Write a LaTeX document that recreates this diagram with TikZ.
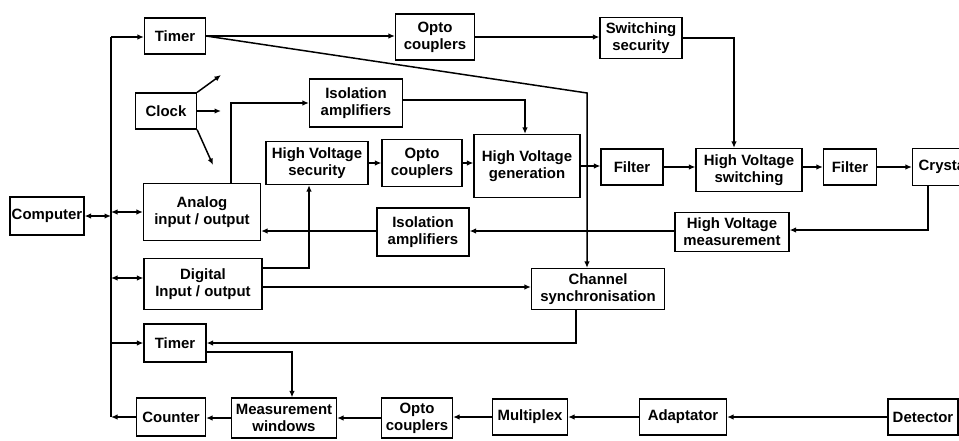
\documentclass[tikz,border=0pt]{standalone}
\usepackage{fontspec}
\setmainfont{Liberation Sans}
\usepackage{tikz}
\usetikzlibrary{arrows.meta, positioning, calc}

\begin{document}
\begin{tikzpicture}[
    x=0.02cm, y=-0.02cm,
    font=\fontsize{8.5}{9.6}\selectfont\bfseries, >=Latex,
    blk/.style={draw, line width=0.7pt, align=center, inner sep=1pt,
                fill=white},
    arr/.style={-{Latex[length=1.3mm, width=1.1mm]}, line width=0.85pt},
    darr/.style={{Latex[length=1.3mm, width=1.1mm]}-{Latex[length=1.3mm, width=1.1mm]},
                 line width=0.85pt},
    ln/.style={line width=0.85pt}
]
\useasboundingbox (0,0) rectangle (959,440);

% --- Left column: computer, bus and interface boards.
\node[blk, minimum width=1.48cm, minimum height=0.76cm] (comp)    at (47 ,216) {Computer};
\node[blk, minimum width=1.22cm, minimum height=0.72cm] (timerA)  at (175, 36) {Timer};
\node[blk, minimum width=1.22cm, minimum height=0.72cm] (clock)   at (166,111) {Clock};
\node[blk, minimum width=2.34cm, minimum height=1.14cm] (analog)  at (202,212) {Analog\\input / output};
\node[blk, minimum width=2.36cm, minimum height=1.02cm] (digital) at (203,284) {Digital\\Input / output};
\node[blk, minimum width=1.24cm, minimum height=0.76cm] (timerB)  at (175,343) {Timer};
\node[blk, minimum width=1.38cm, minimum height=0.76cm] (counter) at (171,417) {Counter};

% --- Top rows: security and high voltage chain.
\node[blk, minimum width=1.58cm, minimum height=0.92cm] (optoA)   at (435, 37) {Opto\\couplers};
\node[blk, minimum width=1.64cm, minimum height=0.82cm] (swsec)   at (641, 38) {Switching\\security};
\node[blk, minimum width=1.86cm, minimum height=0.96cm] (isoA)    at (356,103) {Isolation\\amplifiers};
\node[blk, minimum width=2.04cm, minimum height=0.86cm] (hvsec)   at (317,163) {High Voltage\\security};
\node[blk, minimum width=1.60cm, minimum height=0.94cm] (optoB)   at (422,163) {Opto\\couplers};
\node[blk, minimum width=2.12cm, minimum height=1.26cm] (hvgen)   at (527,166) {High Voltage\\generation};
\node[blk, minimum width=1.24cm, minimum height=0.72cm] (filterA) at (632,167) {Filter};
\node[blk, minimum width=2.12cm, minimum height=0.86cm] (hvsw)    at (749,170) {High Voltage\\switching};
\node[blk, minimum width=1.06cm, minimum height=0.72cm] (filterB) at (850,167) {Filter};
\node[blk, minimum width=1.26cm, minimum height=0.74cm] (crystal) at (944,167) {Crystal};

% --- Measurement return path and synchronisation.
\node[blk, minimum width=1.84cm, minimum height=0.96cm] (isoB)    at (423,232) {Isolation\\amplifiers};
\node[blk, minimum width=2.28cm, minimum height=0.78cm] (hvmeas)  at (732,232) {High Voltage\\measurement};
\node[blk, minimum width=2.66cm, minimum height=0.82cm] (sync)    at (598,289) {Channel\\synchronisation};

% --- Bottom row: detector chain.
\node[blk, minimum width=2.10cm, minimum height=0.80cm] (measw)   at (284,418) {Measurement\\windows};
\node[blk, minimum width=1.42cm, minimum height=0.80cm] (optoC)   at (417,418) {Opto\\couplers};
\node[blk, minimum width=1.50cm, minimum height=0.72cm] (mux)     at (530,417) {Multiplex};
\node[blk, minimum width=1.74cm, minimum height=0.72cm] (adapt)   at (683,417) {Adaptator};
\node[blk, minimum width=1.40cm, minimum height=0.72cm] (detect)  at (923,417) {Detector};

% --- Bus and its branches.
\coordinate (busT) at (111, 37);
\coordinate (busB) at (111,417);
\coordinate (dgW)  at ($(digital.west)+(0,-6)$);
\draw[ln]   (busT) -- (busB);
\draw[arr]  (busT) -- (busT -| timerA.west);
\draw[darr] (comp.east) -- (comp.east -| busT);
\draw[darr] (analog.west -| busT) -- (analog.west);
\draw[darr] (dgW -| busT) -- (dgW);
\draw[arr]  (timerB.west -| busT) -- (timerB.west);
\draw[arr]  (counter.west) -- (busB);

% --- Clock outputs (free ends).
\coordinate (ck1) at (221, 75);
\coordinate (ck2) at (221,111);
\coordinate (ck3) at (213,165);
\draw[arr] (clock.north east) -- (ck1);
\draw[arr] (clock.east)       -- (ck2);
\draw[arr] (clock.south east) -- (ck3);

% --- Timer, security and switching.
\draw[arr] (timerA.east) -- (timerA.east -| optoA.west);
\draw[arr] (optoA.east)  -- (optoA.east -| swsec.west);
\draw[arr] (swsec.east)  -| ($(hvsw.north)+(-15,0)$);
\coordinate (tbend) at (587,93);
\draw[arr] (timerA.east) -- (tbend) -- (tbend |- sync.north);

% --- High voltage generation chain.
\draw[arr] ($(analog.north)+(29,0)$) |- (isoA.west);
\draw[arr] ($(isoA.east)+(0,-3)$) -| ($(hvgen.north)+(-2,0)$);
\draw[arr] (hvsec.east)   -- (hvsec.east -| optoB.west);
\draw[arr] (optoB.east)   -- (optoB.east -| hvgen.west);
\draw[arr] (hvgen.east)   -- (hvgen.east -| filterA.west);
\draw[arr] (filterA.east) -- (filterA.east -| hvsw.west);
\draw[arr] (filterB.west -| hvsw.east) -- (filterB.west);
\draw[arr] (filterB.east) -- (crystal.west);

% --- Measurement back to the analog board.
\coordinate (ibW) at ($(isoB.west)+(0,-1)$);
\draw[arr] ($(crystal.south)+(-16,0)$) |- ($(hvmeas.east)+(0,-2)$);
\draw[arr] ($(hvmeas.west)+(0,-1)$) -- ($(isoB.east)+(0,-1)$);
\draw[arr] (ibW) -- (ibW -| analog.east);

% --- Digital board outputs and synchronisation.
\coordinate (dgE) at ($(digital.east)+(0,3)$);
\draw[arr] ($(digital.east)+(0,-16)$) -| ($(hvsec.south)+(-8,0)$);
\draw[arr] (dgE) -- (dgE -| sync.west);
\draw[arr] ($(sync.south)+(-22,0)$) |- (timerB.east);
\draw[arr] ($(timerB.east)+(0,9)$) -| ($(measw.north)+(8,0)$);

% --- Detector chain to the counter.
\draw[arr] (detect.west) -- (adapt.east);
\draw[arr] (adapt.west)  -- (mux.east);
\draw[arr] (mux.west)    -- (mux.west -| optoC.east);
\draw[arr] (optoC.west)  -- (optoC.west -| measw.east);
\draw[arr] (measw.west)  -- (measw.west -| counter.east);

\end{tikzpicture}
\end{document}
